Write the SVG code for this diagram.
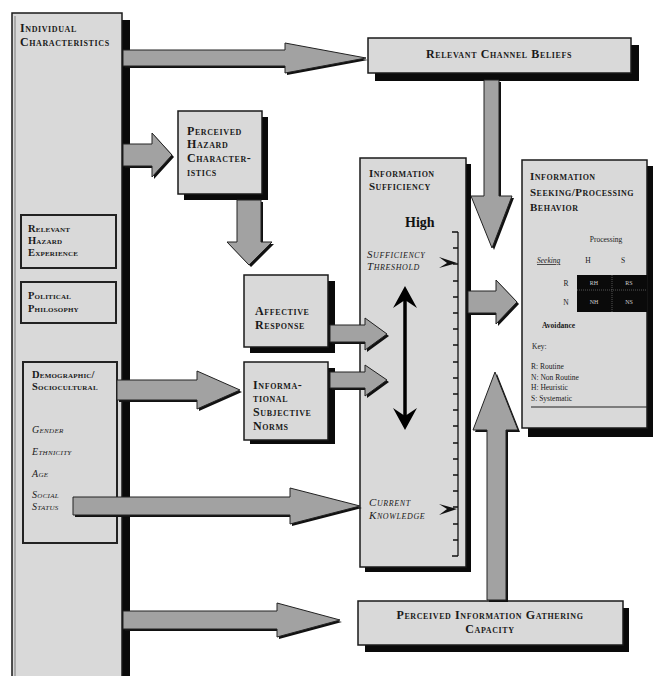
<svg xmlns="http://www.w3.org/2000/svg" width="653" height="676" viewBox="0 0 653 676">
<style>
.box{fill:#d9d9d9;stroke:#1a1a1a;stroke-width:1.5}
.inner{fill:#d9d9d9;stroke:#222;stroke-width:2}
.sh{fill:#0a0a0a}
.arr{fill:#a2a2a2;stroke:#222;stroke-width:1}
.ash{fill:#111}
.t{font-family:"Liberation Serif",serif;font-variant:small-caps;font-size:12px;letter-spacing:0.6px;fill:#1a1a1a;font-weight:bold}
.m{font-size:11px;letter-spacing:0.5px}
.sm{font-size:10.5px;letter-spacing:0.2px}
.ti{font-family:"Liberation Serif",serif;font-variant:small-caps;font-style:italic;font-size:11px;letter-spacing:0.6px;fill:#1a1a1a}
.tl{font-size:10px;letter-spacing:0.3px}
.s{font-family:"Liberation Serif",serif;font-size:7.5px;fill:#1a1a1a}
.w{font-family:"Liberation Serif",serif;font-size:6px;fill:#cfcfcf}
.tick{stroke:#111;stroke-width:1.3}
</style>
<rect width="653" height="676" fill="#fff"/>

<g id="individual-characteristics">
  <rect class="sh" x="120" y="20" width="10" height="656"/>
  <rect class="box" x="12" y="13" width="110" height="665"/>
  <line x1="15" y1="16" x2="15" y2="676" stroke="#666" stroke-width="0.8"/>
  <text class="t" x="20" y="32">Individual</text>
  <text class="t" x="20" y="46">Characteristics</text>
</g>

<g id="relevant-hazard-experience">
  <rect class="inner" x="21" y="215" width="95" height="53"/>
  <text class="t sm" x="28" y="232">Relevant</text>
  <text class="t sm" x="28" y="244">Hazard</text>
  <text class="t sm" x="28" y="256">Experience</text>
</g>

<g id="political-philosophy">
  <rect class="inner" x="21" y="282" width="95" height="41"/>
  <text class="t sm" x="28" y="299">Political</text>
  <text class="t sm" x="28" y="312">Philosophy</text>
</g>

<g id="demographic">
  <rect class="inner" x="23" y="362" width="94" height="181"/>
  <text class="t sm" x="32" y="378">Demographic/</text>
  <text class="t sm" x="32" y="390">Sociocultural</text>
  <text class="ti tl" x="32" y="433">Gender</text>
  <text class="ti tl" x="32" y="455">Ethnicity</text>
  <text class="ti tl" x="32" y="477">Age</text>
  <text class="ti tl" x="32" y="498">Social</text>
  <text class="ti tl" x="32" y="510">Status</text>
</g>

<g id="relevant-channel-beliefs">
  <rect class="sh" x="375" y="45" width="264" height="36"/>
  <rect class="box" x="368" y="38" width="263" height="35"/>
  <text class="t" x="499" y="58" text-anchor="middle">Relevant Channel Beliefs</text>
</g>

<g id="perceived-hazard">
  <rect class="sh" x="184" y="117" width="84" height="83"/>
  <rect class="box" x="178" y="111" width="84" height="83"/>
  <text class="t" x="187" y="135">Perceived</text>
  <text class="t" x="187" y="148">Hazard</text>
  <text class="t" x="187" y="162">Character-</text>
  <text class="t" x="187" y="176">istics</text>
</g>

<g id="affective-response">
  <rect class="sh" x="250" y="281" width="85" height="72"/>
  <rect class="box" x="244" y="275" width="84" height="72"/>
  <text class="t" x="255" y="315">Affective</text>
  <text class="t" x="255" y="329">Response</text>
</g>

<g id="informational-norms">
  <rect class="sh" x="250" y="368" width="85" height="76"/>
  <rect class="box" x="244" y="362" width="84" height="78"/>
  <text class="t" x="253" y="389">Informa-</text>
  <text class="t" x="253" y="402">tional</text>
  <text class="t" x="253" y="416">Subjective</text>
  <text class="t" x="253" y="430">Norms</text>
</g>

<g id="information-sufficiency">
  <rect class="sh" x="365" y="164" width="106" height="408"/>
  <rect class="box" x="360" y="158" width="106" height="409"/>
  <text class="t m" x="369" y="177">Information</text>
  <text class="t m" x="369" y="190">Sufficiency</text>
  <text x="405" y="227" font-family="Liberation Serif,serif" font-weight="bold" font-size="14" fill="#111">High</text>
  <text class="ti" x="367" y="258">Sufficiency</text>
  <text class="ti" x="367" y="270">Threshold</text>
  <text class="ti" x="369" y="506">Current</text>
  <text class="ti" x="369" y="519">Knowledge</text>
  <line class="tick" x1="458" y1="232" x2="458" y2="556"/>
  <path class="tick" fill="none" d="M452,232H458M453,248H458M453,264H458M453,281H458M453,297H458M453,313H458M453,329H458M453,345H458M453,362H458M453,378H458M453,394H458M453,410H458M453,426H458M453,443H458M453,459H458M453,475H458M453,491H458M453,507H458M453,524H458M453,540H458M452,556H458"/>
  <path d="M439,257 L457,263 L439,268 L447,263 Z" fill="#111"/>
  <path d="M439,504 L457,509 L439,515 L447,509 Z" fill="#111"/>
  <line x1="405" y1="300" x2="405" y2="416" stroke="#000" stroke-width="3.5"/>
  <path d="M405,286 L417,308 L405,300 L393,308 Z" fill="#000"/>
  <path d="M405,430 L417,408 L405,416 L393,408 Z" fill="#000"/>
</g>

<g id="information-seeking">
  <rect class="sh" x="528" y="166" width="125" height="271"/>
  <rect class="box" x="522" y="160" width="125" height="268"/>
  <text class="t m" x="530" y="180">Information</text>
  <text class="t m" x="530" y="196">Seeking/Processing</text>
  <text class="t m" x="530" y="211">Behavior</text>
  <text class="s" x="606" y="242" text-anchor="middle">Processing</text>
  <text class="s" x="537" y="263" text-decoration="underline" font-style="italic">Seeking</text>
  <text class="s" x="588" y="263" text-anchor="middle">H</text>
  <text class="s" x="623" y="263" text-anchor="middle">S</text>
  <text class="s" x="566" y="286" text-anchor="middle">R</text>
  <text class="s" x="566" y="305" text-anchor="middle">N</text>
  <rect x="577" y="275" width="70" height="37" fill="#0a0a0a"/>
  <line x1="612" y1="275" x2="612" y2="312" stroke="#888" stroke-width="0.6" stroke-dasharray="1,1"/>
  <line x1="577" y1="290" x2="647" y2="290" stroke="#888" stroke-width="0.6" stroke-dasharray="1,1"/>
  <text class="w" x="594" y="285" text-anchor="middle">RH</text>
  <text class="w" x="629" y="285" text-anchor="middle">RS</text>
  <text class="w" x="594" y="304" text-anchor="middle">NH</text>
  <text class="w" x="629" y="304" text-anchor="middle">NS</text>
  <text class="s" x="542" y="328" font-weight="bold" font-size="8">Avoidance</text>
  <text class="s" x="532" y="349">Key:</text>
  <text class="s" x="531" y="369" font-size="6.5">R: Routine</text>
  <text class="s" x="531" y="380" font-size="6.5">N: Non Routine</text>
  <text class="s" x="531" y="390" font-size="6.5">H: Heuristic</text>
  <text class="s" x="531" y="401" font-size="6.5">S: Systematic</text>
  <line x1="531" y1="407" x2="647" y2="407" stroke="#222" stroke-width="1.2"/>
</g>

<g id="perceived-gathering-capacity">
  <rect class="sh" x="365" y="608" width="264" height="44"/>
  <rect class="box" x="358" y="601" width="265" height="44"/>
  <text class="t" x="490" y="619" text-anchor="middle">Perceived Information Gathering</text>
  <text class="t" x="490" y="633" text-anchor="middle">Capacity</text>
</g>

<g id="connectors">
  <polygon class="ash" transform="translate(2,2)" points="123,50 285,50 285,43 366,58 285,73 285,66 123,66"/>
  <polygon class="arr" points="123,50 285,50 285,43 366,58 285,73 285,66 123,66"/>
  <polygon class="ash" transform="translate(2,2)" points="123,144 152,144 152,133 172,155 152,177 152,166 123,166"/>
  <polygon class="arr" points="123,144 152,144 152,133 172,155 152,177 152,166 123,166"/>
  <polygon class="ash" transform="translate(2,2)" points="237,200 261,200 261,242 272,242 249,265 227,242 237,242"/>
  <polygon class="arr" points="237,200 261,200 261,242 272,242 249,265 227,242 237,242"/>
  <polygon class="ash" transform="translate(2,2)" points="484,80 499,80 499,196 512,196 492,248 471,196 484,196"/>
  <polygon class="arr" points="484,80 499,80 499,196 512,196 492,248 471,196 484,196"/>
  <polygon class="ash" transform="translate(2,2)" points="117,380 197,380 197,371 240,390 197,409 197,400 117,400"/>
  <polygon class="arr" points="117,380 197,380 197,371 240,390 197,409 197,400 117,400"/>
  <polygon class="ash" transform="translate(2,2)" points="330,325 365,325 365,318 387,334 365,350 365,342 330,342"/>
  <polygon class="arr" points="330,325 365,325 365,318 387,334 365,350 365,342 330,342"/>
  <polygon class="ash" transform="translate(2,2)" points="330,372 365,372 365,365 387,380 365,396 365,388 330,388"/>
  <polygon class="arr" points="330,372 365,372 365,365 387,380 365,396 365,388 330,388"/>
  <polygon class="ash" transform="translate(2,2)" points="73,497 290,497 290,488 360,506 290,524 290,515 73,515"/>
  <polygon class="arr" points="73,497 290,497 290,488 360,506 290,524 290,515 73,515"/>
  <polygon class="ash" transform="translate(2,2)" points="468,291 496,291 496,280 517,302 496,324 496,313 468,313"/>
  <polygon class="arr" points="468,291 496,291 496,280 517,302 496,324 496,313 468,313"/>
  <polygon class="ash" transform="translate(2,2)" points="487,600 506,600 506,430 518,430 495,372 473,430 487,430"/>
  <polygon class="arr" points="487,600 506,600 506,430 518,430 495,372 473,430 487,430"/>
  <polygon class="ash" transform="translate(2,2)" points="123,611 277,611 277,603 340,620 277,637 277,629 123,629"/>
  <polygon class="arr" points="123,611 277,611 277,603 340,620 277,637 277,629 123,629"/>
</g>
</svg>
